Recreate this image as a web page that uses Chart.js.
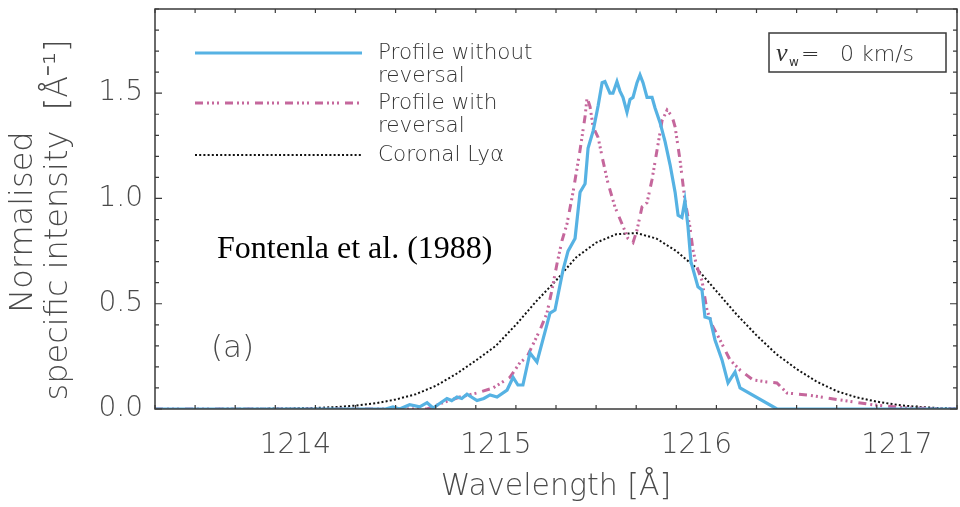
<!DOCTYPE html>
<html>
<head>
<meta charset="utf-8">
<script src="https://cdn.jsdelivr.net/npm/chart.js@4/dist/chart.umd.min.js"></script>
<style>
  html, body { margin: 0; padding: 0; background: #fff; }
  #wrap { width: 960px; height: 507px; position: relative; }
</style>
</head>
<body>
<div id="wrap"><canvas id="c" width="960" height="507"></canvas></div>
<script>
// profile without reversal (blue)
const wavelengthNoRev = [1213.3, 1214.45, 1214.487, 1214.52, 1214.57, 1214.62, 1214.657, 1214.687, 1214.756, 1214.78, 1214.806, 1214.83, 1214.856, 1214.906, 1214.94, 1214.971, 1215.006, 1215.056, 1215.086, 1215.11, 1215.135, 1215.17, 1215.205, 1215.27, 1215.295, 1215.335, 1215.36, 1215.395, 1215.42, 1215.445, 1215.46, 1215.485, 1215.51, 1215.53, 1215.544, 1215.569, 1215.584, 1215.604, 1215.619, 1215.634, 1215.654, 1215.669, 1215.684, 1215.704, 1215.719, 1215.734, 1215.754, 1215.779, 1215.794, 1215.819, 1215.844, 1215.869, 1215.894, 1215.909, 1215.928, 1215.943, 1215.958, 1215.973, 1216.008, 1216.028, 1216.043, 1216.068, 1216.093, 1216.128, 1216.158, 1216.193, 1216.218, 1216.402, 1217.3];
const intensityNoRev = [0, 0, 0.01, 0, 0.02, 0.01, 0.03, 0.005, 0.05, 0.04, 0.057, 0.05, 0.07, 0.04, 0.05, 0.067, 0.057, 0.09, 0.15, 0.114, 0.114, 0.266, 0.223, 0.456, 0.47, 0.66, 0.75, 0.81, 1.03, 1.07, 1.24, 1.32, 1.44, 1.55, 1.555, 1.50, 1.50, 1.555, 1.51, 1.48, 1.41, 1.47, 1.48, 1.55, 1.587, 1.55, 1.48, 1.48, 1.43, 1.36, 1.27, 1.16, 1.03, 0.92, 0.91, 0.99, 0.87, 0.70, 0.58, 0.566, 0.437, 0.43, 0.328, 0.233, 0.124, 0.176, 0.10, 0, 0];

// profile with reversal (pink)
const wavelengthRev = [1213.3, 1214.657, 1214.736, 1214.821, 1214.906, 1214.986, 1215.07, 1215.12, 1215.155, 1215.22, 1215.255, 1215.28, 1215.305, 1215.33, 1215.355, 1215.385, 1215.42, 1215.445, 1215.455, 1215.47, 1215.485, 1215.51, 1215.534, 1215.559, 1215.594, 1215.629, 1215.659, 1215.684, 1215.704, 1215.729, 1215.754, 1215.779, 1215.804, 1215.829, 1215.854, 1215.879, 1215.894, 1215.919, 1215.943, 1215.968, 1215.983, 1216.003, 1216.028, 1216.053, 1216.083, 1216.118, 1216.168, 1216.218, 1216.283, 1216.352, 1216.402, 1216.452, 1216.552, 1216.716, 1216.881, 1217.05, 1217.3];
const intensityRev = [0, 0, 0.03, 0.057, 0.076, 0.10, 0.15, 0.22, 0.247, 0.375, 0.456, 0.566, 0.69, 0.80, 0.88, 1.03, 1.23, 1.39, 1.48, 1.435, 1.34, 1.29, 1.18, 1.074, 0.96, 0.88, 0.81, 0.79, 0.85, 0.96, 0.98, 1.09, 1.23, 1.37, 1.42, 1.39, 1.34, 1.18, 0.99, 0.865, 0.756, 0.675, 0.61, 0.47, 0.39, 0.328, 0.233, 0.185, 0.138, 0.128, 0.124, 0.076, 0.067, 0.043, 0.02, 0.005, 0];

// coronal Ly-alpha (black dotted)
const wavelengthCorona = [1213.3, 1213.5, 1213.7, 1213.9, 1214.0, 1214.1, 1214.2, 1214.3, 1214.4, 1214.5, 1214.6, 1214.7, 1214.8, 1214.9, 1215.0, 1215.1, 1215.2, 1215.3, 1215.4, 1215.5, 1215.6, 1215.7, 1215.8, 1215.9, 1216.0, 1216.1, 1216.2, 1216.3, 1216.4, 1216.5, 1216.6, 1216.7, 1216.8, 1216.9, 1217.0, 1217.1, 1217.2, 1217.3];
const intensityCorona = [0, 0, 0.001, 0.002, 0.003, 0.005, 0.009, 0.016, 0.027, 0.045, 0.07, 0.11, 0.165, 0.23, 0.30, 0.40, 0.51, 0.61, 0.72, 0.79, 0.83, 0.836, 0.81, 0.75, 0.67, 0.56, 0.45, 0.35, 0.26, 0.19, 0.13, 0.085, 0.055, 0.035, 0.02, 0.01, 0.005, 0.002];

const seriesLabels = [["Profile without", "reversal"], ["Profile with", "reversal"], ["Coronal Ly\u03b1"]];
const xTickValues = [1214, 1215, 1216, 1217];
const yTickValues = [0, 0.5, 1.0, 1.5];

const xMin = 1213.3, xMax = 1217.3;
const yMin = 0, yMax = 1.9;

const axisColor = "#3a3a3a";
const textColor = "#4a4a4a";
const thinFont = '"DejaVu Sans ExtraLight", "DejaVu Sans", sans-serif';

const toPoints = (xs, ys) => xs.map((x, i) => ({ x: x, y: ys[i] }));

// inward ticks, frame, legend and text notes
const framePlugin = {
  id: "frame",
  afterDraw(chart) {
    const ctx = chart.ctx;
    const { left, right, top, bottom } = chart.chartArea;
    const xs = chart.scales.x;
    const ys = chart.scales.y;

    ctx.save();
    ctx.strokeStyle = axisColor;
    ctx.lineWidth = 1.5;
    ctx.strokeRect(left, top, right - left, bottom - top);

    ctx.lineWidth = 1.2;
    ctx.beginPath();
    for (let i = 0; i <= 20; i++) {
      const v = xMin + i * 0.2;
      const len = Math.abs(v - Math.round(v)) < 1e-6 ? 7 : 4;
      const px = xs.getPixelForValue(v);
      ctx.moveTo(px, bottom); ctx.lineTo(px, bottom - len);
      ctx.moveTo(px, top); ctx.lineTo(px, top + len);
    }
    for (let i = 0; i <= 19; i++) {
      const v = i * 0.1;
      const len = i % 5 === 0 ? 7 : 4;
      const py = ys.getPixelForValue(v);
      ctx.moveTo(left, py); ctx.lineTo(left + len, py);
      ctx.moveTo(right, py); ctx.lineTo(right - len, py);
    }
    ctx.stroke();

    // y axis title (two lines, rotated)
    ctx.save();
    ctx.translate(0, 222);
    ctx.rotate(-Math.PI / 2);
    ctx.fillStyle = textColor;
    ctx.textAlign = "center";
    ctx.textBaseline = "alphabetic";
    ctx.font = "200 32px " + thinFont;
    ctx.fillText("Normalised", 0, 32);
    ctx.fillText("specific intensity  [\u00c5\u207b\u00b9]", 2, 67);
    ctx.restore();

    // legend
    const rows = [53, 103, 155];
    chart.data.datasets.forEach((ds, i) => {
      ctx.save();
      ctx.strokeStyle = ds.borderColor;
      ctx.lineWidth = ds.borderWidth;
      ctx.setLineDash(ds.borderDash || []);
      ctx.beginPath();
      ctx.moveTo(195, rows[i]);
      ctx.lineTo(362, rows[i]);
      ctx.stroke();
      ctx.restore();
      ctx.fillStyle = "#333";
      ctx.font = "200 21.5px " + thinFont;
      ctx.textBaseline = "middle";
      seriesLabels[i].forEach((t, j) => ctx.fillText(t, 378, rows[i] + j * 23));
    });

    // velocity box
    ctx.lineWidth = 1.5;
    ctx.strokeStyle = axisColor;
    ctx.strokeRect(769, 33, 177, 39);
    ctx.fillStyle = "#333";
    ctx.textBaseline = "alphabetic";
    ctx.font = 'italic 26px "Liberation Serif", serif';
    ctx.fillText("v", 776, 61);
    ctx.font = "12px " + thinFont;
    ctx.fillText("w", 789, 66);
    ctx.font = "200 22px " + thinFont;
    ctx.fillText("=", 801, 61);
    ctx.fillText("0 km/s", 840, 61);

    // notes
    ctx.fillStyle = "#000";
    ctx.font = '32px "Liberation Serif", serif';
    ctx.textBaseline = "middle";
    ctx.fillText("Fontenla et al. (1988)", 217, 250);
    ctx.fillStyle = textColor;
    ctx.font = "200 31px " + thinFont;
    ctx.fillText("(a)", 211, 349);
    ctx.restore();
  }
};

new Chart(document.getElementById("c"), {
  type: "line",
  data: {
    datasets: [
      {
        label: "Profile without reversal",
        data: toPoints(wavelengthNoRev, intensityNoRev),
        borderColor: "#56b2e3",
        borderWidth: 3.2,
        order: 1
      },
      {
        label: "Profile with reversal",
        data: toPoints(wavelengthRev, intensityRev),
        borderColor: "#c5679c",
        borderWidth: 3,
        borderDash: [8, 4, 2, 3, 2, 3, 2, 6],
        order: 2
      },
      {
        label: "Coronal Ly\u03b1",
        data: toPoints(wavelengthCorona, intensityCorona),
        borderColor: "#111",
        borderWidth: 2,
        borderDash: [2, 2.2],
        order: 3
      }
    ]
  },
  options: {
    responsive: false,
    animation: false,
    parsing: false,
    elements: { point: { radius: 0 }, line: { tension: 0, fill: false } },
    layout: { padding: { top: 9, right: 3, left: 0, bottom: 0 } },
    plugins: { legend: { display: false }, tooltip: { enabled: false } },
    scales: {
      x: {
        type: "linear",
        bounds: "data",
        min: xMin,
        max: xMax,
        grid: { display: false, drawTicks: false },
        border: { display: false },
        afterBuildTicks: (s) => { s.ticks = xTickValues.map((v) => ({ value: v })); },
        afterFit: (s) => { s.height = 98; s.paddingLeft = 0; s.paddingRight = 0; },
        ticks: {
          padding: 20,
          color: textColor,
          font: { family: thinFont, size: 28, weight: 200 },
          callback: (v) => v.toFixed(0)
        },
        title: {
          display: true,
          text: "Wavelength [\u00c5]",
          color: textColor,
          font: { family: thinFont, size: 30, weight: 200 },
          padding: { top: 0, bottom: 2 }
        }
      },
      y: {
        type: "linear",
        bounds: "data",
        min: yMin,
        max: yMax,
        grid: { display: false, drawTicks: false },
        border: { display: false },
        afterBuildTicks: (s) => { s.ticks = yTickValues.map((v) => ({ value: v })); },
        afterFit: (s) => { s.width = 155; s.paddingTop = 0; s.paddingBottom = 0; },
        ticks: {
          padding: 12,
          color: textColor,
          font: { family: thinFont, size: 28, weight: 200 },
          callback: (v) => v.toFixed(1)
        },
        title: { display: false }
      }
    }
  },
  plugins: [framePlugin]
});
</script>
</body>
</html>
